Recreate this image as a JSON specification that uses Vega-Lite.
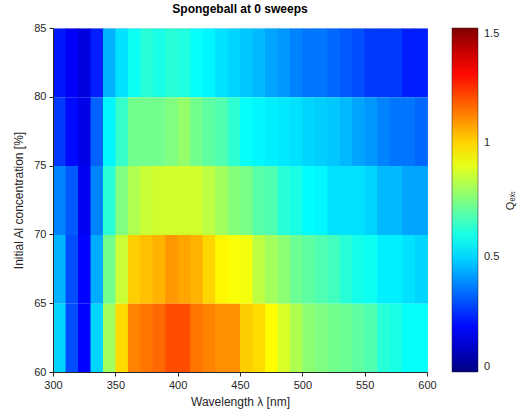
{
  "$schema": "https://vega.github.io/schema/vega-lite/v6.json",
  "width": 374,
  "height": 344,
  "autosize": {"type": "none"},
  "padding": {"left": 53, "top": 28, "right": 95, "bottom": 46},
  "background": "white",
  "title": {"text": "Spongeball at 0 sweeps", "font": "Liberation Sans", "fontSize": 12, "fontWeight": "bold", "color": "#000000", "offset": 6, "anchor": "middle"},
  "config": {
    "view": {"stroke": "#d9d9d9", "strokeWidth": 1},
    "axis": {"labelFont": "Liberation Sans", "titleFont": "Liberation Sans", "labelColor": "#262626", "titleColor": "#262626", "labelFontSize": 11, "titleFontSize": 12, "titleFontWeight": "normal", "domainColor": "#262626", "tickColor": "#262626", "grid": false},
    "legend": {"labelFont": "Liberation Sans", "titleFont": "Liberation Sans", "labelColor": "#262626", "titleColor": "#262626"}
  },
  "data": {"values": [
    {"wl":305,"al":82.5,"q":0.22},{"wl":315,"al":82.5,"q":0.18},{"wl":325,"al":82.5,"q":0.14},{"wl":335,"al":82.5,"q":0.23},{"wl":345,"al":82.5,"q":0.45},{"wl":355,"al":82.5,"q":0.52},{"wl":365,"al":82.5,"q":0.58},{"wl":375,"al":82.5,"q":0.62},{"wl":385,"al":82.5,"q":0.60},{"wl":395,"al":82.5,"q":0.62},{"wl":405,"al":82.5,"q":0.61},{"wl":415,"al":82.5,"q":0.57},{"wl":425,"al":82.5,"q":0.55},{"wl":435,"al":82.5,"q":0.52},{"wl":445,"al":82.5,"q":0.50},{"wl":455,"al":82.5,"q":0.48},{"wl":465,"al":82.5,"q":0.46},{"wl":475,"al":82.5,"q":0.43},{"wl":485,"al":82.5,"q":0.41},{"wl":495,"al":82.5,"q":0.38},{"wl":505,"al":82.5,"q":0.36},{"wl":515,"al":82.5,"q":0.36},{"wl":525,"al":82.5,"q":0.34},{"wl":535,"al":82.5,"q":0.32},{"wl":545,"al":82.5,"q":0.30},{"wl":555,"al":82.5,"q":0.27},{"wl":565,"al":82.5,"q":0.27},{"wl":575,"al":82.5,"q":0.27},{"wl":585,"al":82.5,"q":0.23},{"wl":595,"al":82.5,"q":0.23},
    {"wl":305,"al":77.5,"q":0.27},{"wl":315,"al":77.5,"q":0.20},{"wl":325,"al":77.5,"q":0.15},{"wl":335,"al":77.5,"q":0.33},{"wl":345,"al":77.5,"q":0.55},{"wl":355,"al":77.5,"q":0.64},{"wl":365,"al":77.5,"q":0.73},{"wl":375,"al":77.5,"q":0.73},{"wl":385,"al":77.5,"q":0.73},{"wl":395,"al":77.5,"q":0.75},{"wl":405,"al":77.5,"q":0.78},{"wl":415,"al":77.5,"q":0.73},{"wl":425,"al":77.5,"q":0.70},{"wl":435,"al":77.5,"q":0.68},{"wl":445,"al":77.5,"q":0.63},{"wl":455,"al":77.5,"q":0.57},{"wl":465,"al":77.5,"q":0.55},{"wl":475,"al":77.5,"q":0.54},{"wl":485,"al":77.5,"q":0.53},{"wl":495,"al":77.5,"q":0.52},{"wl":505,"al":77.5,"q":0.50},{"wl":515,"al":77.5,"q":0.49},{"wl":525,"al":77.5,"q":0.48},{"wl":535,"al":77.5,"q":0.46},{"wl":545,"al":77.5,"q":0.43},{"wl":555,"al":77.5,"q":0.41},{"wl":565,"al":77.5,"q":0.38},{"wl":575,"al":77.5,"q":0.36},{"wl":585,"al":77.5,"q":0.36},{"wl":595,"al":77.5,"q":0.34},
    {"wl":305,"al":72.5,"q":0.38},{"wl":315,"al":72.5,"q":0.32},{"wl":325,"al":72.5,"q":0.17},{"wl":335,"al":72.5,"q":0.38},{"wl":345,"al":72.5,"q":0.62},{"wl":355,"al":72.5,"q":0.75},{"wl":365,"al":72.5,"q":0.82},{"wl":375,"al":72.5,"q":0.86},{"wl":385,"al":72.5,"q":0.87},{"wl":395,"al":72.5,"q":0.87},{"wl":405,"al":72.5,"q":0.87},{"wl":415,"al":72.5,"q":0.87},{"wl":425,"al":72.5,"q":0.84},{"wl":435,"al":72.5,"q":0.80},{"wl":445,"al":72.5,"q":0.76},{"wl":455,"al":72.5,"q":0.74},{"wl":465,"al":72.5,"q":0.69},{"wl":475,"al":72.5,"q":0.68},{"wl":485,"al":72.5,"q":0.62},{"wl":495,"al":72.5,"q":0.60},{"wl":505,"al":72.5,"q":0.56},{"wl":515,"al":72.5,"q":0.55},{"wl":525,"al":72.5,"q":0.52},{"wl":535,"al":72.5,"q":0.52},{"wl":545,"al":72.5,"q":0.52},{"wl":555,"al":72.5,"q":0.50},{"wl":565,"al":72.5,"q":0.46},{"wl":575,"al":72.5,"q":0.46},{"wl":585,"al":72.5,"q":0.43},{"wl":595,"al":72.5,"q":0.43},
    {"wl":305,"al":67.5,"q":0.45},{"wl":315,"al":67.5,"q":0.30},{"wl":325,"al":67.5,"q":0.19},{"wl":335,"al":67.5,"q":0.44},{"wl":345,"al":67.5,"q":0.73},{"wl":355,"al":67.5,"q":0.86},{"wl":365,"al":67.5,"q":1.01},{"wl":375,"al":67.5,"q":1.03},{"wl":385,"al":67.5,"q":1.05},{"wl":395,"al":67.5,"q":1.09},{"wl":405,"al":67.5,"q":1.07},{"wl":415,"al":67.5,"q":1.05},{"wl":425,"al":67.5,"q":1.00},{"wl":435,"al":67.5,"q":0.95},{"wl":445,"al":67.5,"q":0.93},{"wl":455,"al":67.5,"q":0.92},{"wl":465,"al":67.5,"q":0.84},{"wl":475,"al":67.5,"q":0.80},{"wl":485,"al":67.5,"q":0.77},{"wl":495,"al":67.5,"q":0.72},{"wl":505,"al":67.5,"q":0.70},{"wl":515,"al":67.5,"q":0.68},{"wl":525,"al":67.5,"q":0.66},{"wl":535,"al":67.5,"q":0.62},{"wl":545,"al":67.5,"q":0.59},{"wl":555,"al":67.5,"q":0.58},{"wl":565,"al":67.5,"q":0.54},{"wl":575,"al":67.5,"q":0.54},{"wl":585,"al":67.5,"q":0.52},{"wl":595,"al":67.5,"q":0.50},
    {"wl":305,"al":62.5,"q":0.50},{"wl":315,"al":62.5,"q":0.30},{"wl":325,"al":62.5,"q":0.19},{"wl":335,"al":62.5,"q":0.50},{"wl":345,"al":62.5,"q":0.80},{"wl":355,"al":62.5,"q":0.99},{"wl":365,"al":62.5,"q":1.12},{"wl":375,"al":62.5,"q":1.14},{"wl":385,"al":62.5,"q":1.16},{"wl":395,"al":62.5,"q":1.20},{"wl":405,"al":62.5,"q":1.20},{"wl":415,"al":62.5,"q":1.14},{"wl":425,"al":62.5,"q":1.12},{"wl":435,"al":62.5,"q":1.10},{"wl":445,"al":62.5,"q":1.10},{"wl":455,"al":62.5,"q":1.01},{"wl":465,"al":62.5,"q":0.99},{"wl":475,"al":62.5,"q":0.94},{"wl":485,"al":62.5,"q":0.88},{"wl":495,"al":62.5,"q":0.82},{"wl":505,"al":62.5,"q":0.77},{"wl":515,"al":62.5,"q":0.75},{"wl":525,"al":62.5,"q":0.73},{"wl":535,"al":62.5,"q":0.72},{"wl":545,"al":62.5,"q":0.70},{"wl":555,"al":62.5,"q":0.68},{"wl":565,"al":62.5,"q":0.62},{"wl":575,"al":62.5,"q":0.60},{"wl":585,"al":62.5,"q":0.57},{"wl":595,"al":62.5,"q":0.57}
  ]},
  "layer": [
    {
      "mark": {"type": "rect", "strokeWidth": 0, "binSpacing": 0, "xOffset": 0.4, "x2Offset": -0.4},
      "encoding": {
        "x": {"field": "wl", "type": "quantitative", "bin": {"step": 10, "extent": [300, 600]},
          "scale": {"domain": [300, 600], "nice": false, "zero": false},
          "axis": {"title": "Wavelength λ [nm]", "values": [300, 350, 400, 450, 500, 550, 600], "format": "d", "tickSize": 4, "labelPadding": 3, "titlePadding": 6, "labelFlush": false}},
        "y": {"field": "al", "type": "quantitative", "bin": {"step": 5, "extent": [60, 85]},
          "scale": {"domain": [60, 85], "nice": false, "zero": false},
          "axis": {"title": "Initial Al concentration [%]", "values": [60, 65, 70, 75, 80, 85], "format": "d", "tickSize": 4, "labelPadding": 3, "titlePadding": 8, "labelFlush": false}},
        "color": {"field": "q", "type": "quantitative",
          "scale": {"domain": [0, 0.1875, 0.5625, 0.9375, 1.3125, 1.5], "range": ["#000080", "#0000ff", "#00ffff", "#ffff00", "#ff0000", "#800000"], "interpolate": "rgb"},
          "legend": {"title": null, "orient": "none", "legendX": 399, "legendY": 0, "direction": "vertical", "gradientLength": 344, "gradientThickness": 26, "gradientStrokeColor": "#262626", "gradientStrokeWidth": 0.5, "values": [0, 0.5, 1, 1.5], "format": "~g", "labelFontSize": 11, "labelOffset": 6}}
      }
    },
    {
      "mark": {"type": "point", "opacity": 0},
      "encoding": {
        "y": {"field": "q", "type": "quantitative",
          "scale": {"domain": [0, 1.5], "nice": false, "zero": false},
          "axis": {"orient": "right", "title": "Qₑₓₜ", "labels": false, "ticks": false, "domain": false, "titleAngle": -90, "titleX": 83, "titleY": 172, "titleAlign": "center", "titleBaseline": "middle", "titleFontSize": 11}}
      }
    }
  ],
  "resolve": {"scale": {"y": "independent"}, "axis": {"y": "independent"}}
}
